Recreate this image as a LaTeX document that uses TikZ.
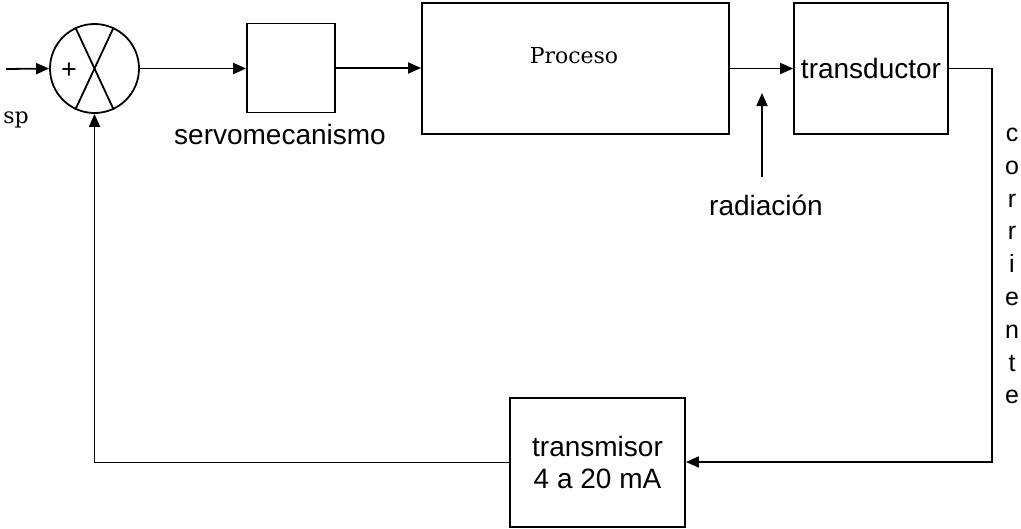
\documentclass[tikz,border=0pt]{standalone}
\usepackage{fontspec}
\newfontfamily\arialf{Liberation Sans}
\newfontfamily\seriff{DejaVu Serif}
\usetikzlibrary{arrows.meta,calc}
\begin{document}
\begin{tikzpicture}[x=1pt,y=-1pt,
  ln/.style={line width=1.8pt,draw=black},
  arr/.style={ln,-{Triangle[length=13pt,width=11pt]}},
  blk/.style={ln,rectangle,inner sep=0pt},
  sans/.style={font=\arialf\fontsize{28}{32}\selectfont},
  serif/.style={font=\seriff\fontsize{22}{26}\selectfont}]
\useasboundingbox (0,0) rectangle (1021,528);
% summing junction
\node[ln,circle,minimum size=89pt,inner sep=0pt] (sum) at (94.5,68.5) {};
\draw[ln] (sum.65) -- (sum.245);
\draw[ln] (sum.115) -- (sum.295);
\node[font=\arialf\fontsize{27}{30}\selectfont,inner sep=0pt] (plus) at (69,71) {+};
\coordinate (in) at (6,69);
\node[serif,anchor=center] (sp) at (16,120) {sp};
% blocks
\node[blk,minimum width=88pt,minimum height=89pt] (servo) at (291,68) {};
\node[sans] (servolbl) at (280,134) {servomecanismo};
\node[blk,minimum width=307pt,minimum height=131pt] (proc) at (575.5,68.5) {};
\node[serif] (proctxt) at (574,56) {Proceso};
\node[blk,minimum width=154pt,minimum height=131pt,sans] (trans) at (871,68.5) {transductor};
\node[blk,minimum width=175pt,minimum height=129pt,sans,align=center] (tx) at (597.5,462.5) {transmisor\\4 a 20 mA};
% radiation
\node[sans] (rad) at (766,205) {radiación};
\coordinate (radbot) at (762,177);
\coordinate (radtip) at (762,93);
% corriente
\node[font=\arialf\fontsize{25}{32.8}\selectfont,align=center,inner sep=0pt] (corr) at (1012,266) {c\\o\\r\\r\\i\\e\\n\\t\\e};
\coordinate (rc) at (992,462);
% connectors
\draw[arr] (in) -- (sum.west);
\draw[arr] (sum.east) -- (sum.east -| servo.west);
\draw[arr] (servo.east) -- (servo.east -| proc.west);
\draw[arr] (proc.east) -- (proc.east -| trans.west);
\draw[arr] (radbot) -- (radtip);
\draw[arr] (trans.east) -| (rc) -- (rc -| tx.east);
\draw[arr] (tx.west) -| (sum.south);
\end{tikzpicture}
\end{document}
